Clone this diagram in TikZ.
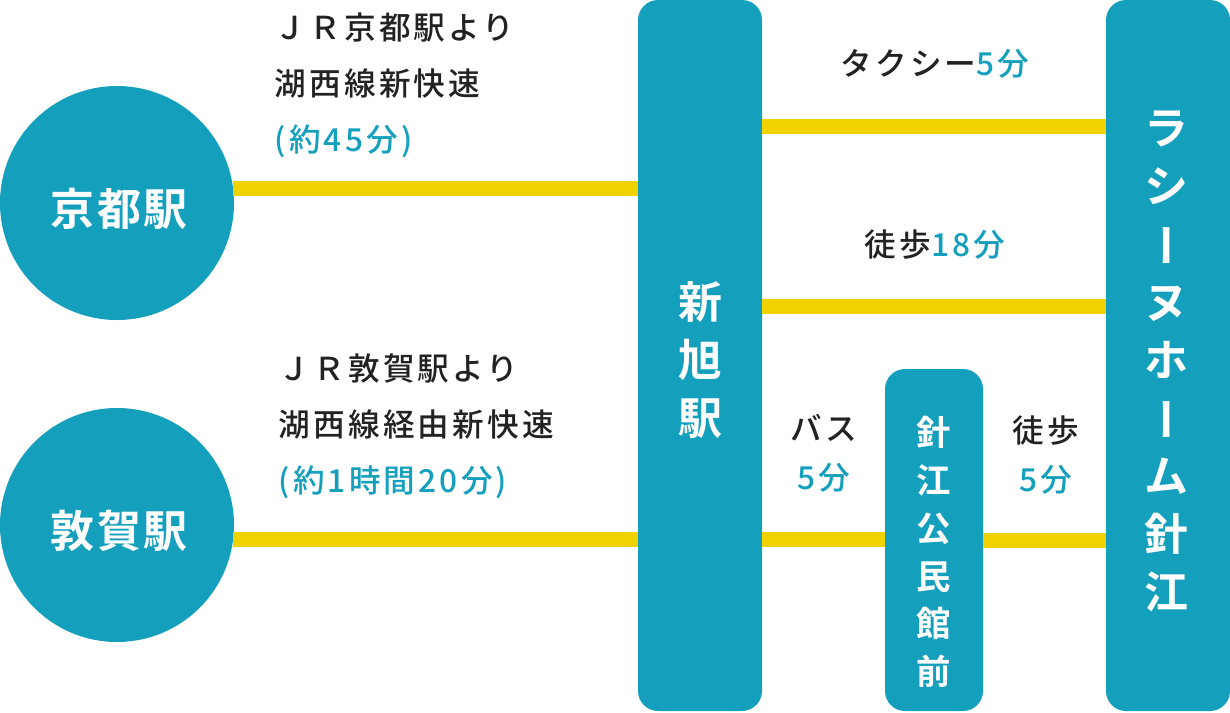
\documentclass[tikz,border=0pt]{standalone}
\usepackage{fontspec}
\usepackage{graphicx}
\setmainfont{Noto Sans CJK JP}
\newfontface\spacedfont[LetterSpace=10]{Noto Sans CJK JP Medium}
\newfontface\spacedbold[LetterSpace=6]{Noto Sans CJK JP Bold}
\definecolor{teal}{HTML}{149FBD}
\definecolor{rail}{HTML}{F0D200}
\definecolor{ink}{HTML}{222222}
\newcommand{\vbar}{\smash{\raisebox{1.4pt}{\hspace*{4pt}\rotatebox[origin=c]{90}{ー}}}}
\newcommand{\mins}[1]{\textcolor{teal}{#1}}
\tikzset{
  stopcircle/.style={circle,fill=teal,inner sep=0pt,outer sep=0pt,minimum size=2.34cm},
  stopbox/.style={rectangle,rounded corners=0.2cm,fill=teal,inner sep=0pt,outer sep=0pt},
  stoplabel/.style={text=white,inner sep=0pt,align=center,font=\spacedbold\fontsize{12.5}{16.5}\selectfont},
  smalllabel/.style={text=white,inner sep=0pt,align=center,font=\spacedbold\fontsize{9.8}{13.6}\selectfont},
  routetext/.style={text=ink,inner sep=0pt,font=\spacedfont\fontsize{9}{15.9}\selectfont},
  timetext/.style={routetext,align=center,font=\spacedfont\fontsize{9}{13.9}\selectfont},
  railline/.style={rail,line width=0.15cm}
}

\begin{document}
\begin{tikzpicture}
  \useasboundingbox (0,0) rectangle (12.30,7.12);
  % stations
  \node[stopcircle] (kyoto) at (1.17,5.09) {};
  \node[stopcircle] (tsuruga) at (1.17,1.87) {};
  \node[stopbox,minimum width=1.24cm,minimum height=7.11cm] (asahi) at (7.00,3.565) {};
  \node[stopbox,minimum width=1.24cm,minimum height=7.11cm] (lacine) at (11.68,3.565) {};
  \node[stopbox,minimum width=0.98cm,minimum height=3.42cm] (harie) at (9.34,1.72) {};
  % station names
  \node[stoplabel] (kyotoname) at (1.19,5.03) {京都駅};
  \node[stoplabel] (tsuruganame) at (1.19,1.81) {敦賀駅};
  \node[stoplabel] (asahiname) at (7.00,3.52) {新\\旭\\駅};
  \node[stoplabel] (lacinename) at (11.66,3.51) {ラ\\シ\\\vbar\\ヌ\\ホ\\\vbar\\ム\\針\\江};
  \node[smalllabel] (harielabel) at (9.34,1.60) {針\\江\\公\\民\\館\\前};
  % rail lines
  \coordinate (taxi) at (7.62,5.86);
  \coordinate (walk) at (7.62,4.06);
  \draw[railline] (kyoto.7.4) -- (kyoto.7.4 -| asahi.west);
  \draw[railline] (tsuruga.-7.3) -- (tsuruga.-7.3 -| asahi.west);
  \draw[railline] (taxi -| asahi.east) -- (taxi -| lacine.west);
  \draw[railline] (walk -| asahi.east) -- (walk -| lacine.west);
  \draw[railline] ([yshift=0.01cm]harie.west -| asahi.east) -- ([yshift=0.01cm]harie.west);
  \draw[railline] (harie.east) -- (harie.east -| lacine.west);
  % route texts
  \node[routetext,align=left,anchor=west] (kyotoroute) at (2.74,6.27) {ＪＲ京都駅より\\湖西線新快速\\\mins{(約45分)}};
  \node[routetext,align=left,anchor=west] (tsurugaroute) at (2.78,2.86) {ＪＲ敦賀駅より\\湖西線経由新快速\\\mins{(約1時間20分)}};
  \node[routetext] (taxitime) at (9.35,6.48) {タクシー\mins{5分}};
  \node[routetext] (walktime) at (9.35,4.67) {徒歩\mins{18分}};
  \node[timetext] (bustime) at (8.24,2.59) {バス\\\mins{5分}};
  \node[timetext] (harietime) at (10.46,2.57) {徒歩\\\mins{5分}};
\end{tikzpicture}
\end{document}
